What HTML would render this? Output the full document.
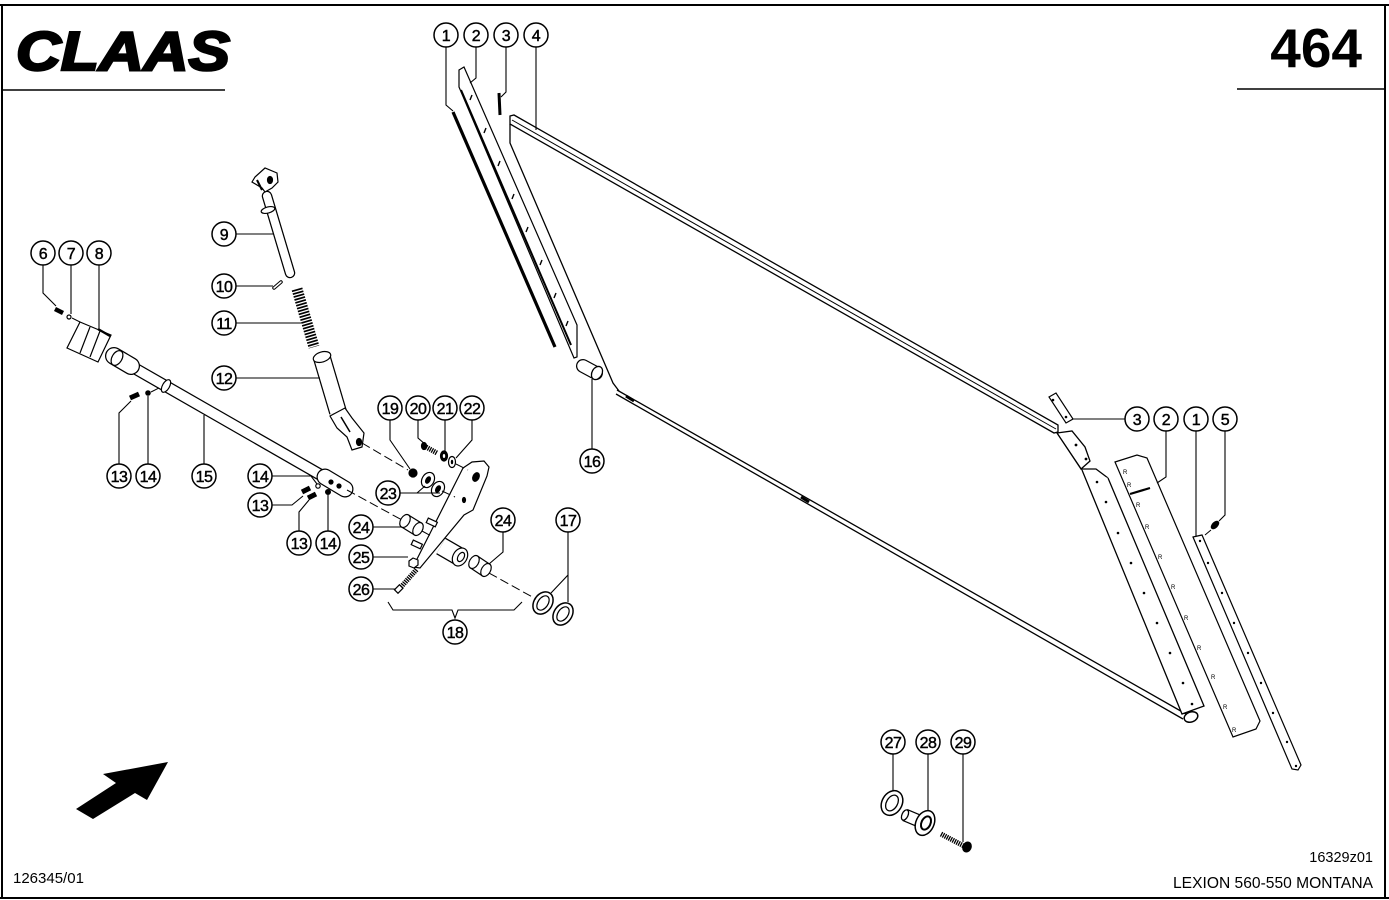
<!DOCTYPE html>
<html><head><meta charset="utf-8"><style>
html,body{margin:0;padding:0;background:#fff;}
svg{display:block;}
text{font-family:"Liberation Sans",sans-serif;}
</style></head><body>
<svg width="1389" height="900" viewBox="0 0 1389 900" xmlns="http://www.w3.org/2000/svg">
<rect width="1389" height="900" fill="#fff"/>

<!-- frame -->
<g stroke="#000" stroke-width="2" fill="none">
<line x1="0" y1="5" x2="1389" y2="5"/>
<line x1="2" y1="5" x2="2" y2="898"/>
<line x1="1385" y1="5" x2="1385" y2="898"/>
<line x1="0" y1="898" x2="1389" y2="898"/>
<line x1="2" y1="90" x2="225" y2="90" stroke-width="1.6"/>
<line x1="1237" y1="89" x2="1385" y2="89" stroke-width="1.6"/>
</g>

<!-- logo & page number -->
<text x="16" y="70" font-size="55" font-weight="bold" font-style="italic" stroke="#000" stroke-width="2.5" textLength="214" lengthAdjust="spacingAndGlyphs">CLAAS</text>
<text x="1362" y="67" font-size="55" font-weight="bold" text-anchor="end">464</text>

<!-- ================= MAIN PANEL (part 4) ================= -->
<g stroke="#000" fill="none" stroke-width="1.3">
  <polygon points="510,116 514,115 1058,425 1058,432 1054,433 510,124" fill="#fff"/>
  <line x1="512" y1="120" x2="1056" y2="429" stroke-width="1"/>
  <polyline points="510,124 510,143 613,383 619,391"/>
  <line x1="617" y1="390" x2="1186" y2="714"/>
  <line x1="616" y1="394" x2="1183" y2="719"/>
  <line x1="626" y1="396" x2="634" y2="401" stroke-width="3"/>
  <line x1="801" y1="497" x2="809" y2="502" stroke-width="3"/>
  <!-- bracket -->
  <path d="M1057 433 L1072 431 L1085 447 L1090 461 L1081 469 Z" fill="#fff"/>
  <path d="M1081 469 L1096 469 L1108 478"/>
  <line x1="1057" y1="433" x2="1082" y2="470" stroke-width="1"/>
  <!-- dotted strip -->
  <path d="M1082 470 L1182 714 L1204 706 L1108 478" fill="#fff"/>
  <ellipse cx="1191" cy="717" rx="7" ry="5" transform="rotate(-20 1191 717)" fill="#fff" stroke-width="1.5"/>
</g>
<g fill="#000">
  <circle cx="1076" cy="445" r="1.4"/><circle cx="1086" cy="459" r="1.4"/>
  <circle cx="1097" cy="482" r="1.3"/><circle cx="1106" cy="502" r="1.3"/><circle cx="1118" cy="533" r="1.3"/>
  <circle cx="1131" cy="563" r="1.3"/><circle cx="1144" cy="593" r="1.3"/><circle cx="1157" cy="623" r="1.3"/>
  <circle cx="1170" cy="653" r="1.3"/><circle cx="1183" cy="683" r="1.3"/><circle cx="1192" cy="704" r="1.3"/>
</g>

<!-- top-left strips (parts 1,2,3) -->
<g stroke="#000" fill="none">
  <line x1="453" y1="112" x2="555" y2="347" stroke-width="3.2"/>
  <polygon points="459,70 464,67 577,325 577,357 574,358 459,87" fill="#fff" stroke-width="1.2"/>
  <line x1="461" y1="90" x2="571" y2="345" stroke-width="2"/>
  <g stroke-width="1.4">
    <line x1="470" y1="100" x2="472" y2="95"/><line x1="484" y1="133" x2="486" y2="128"/>
    <line x1="498" y1="166" x2="500" y2="161"/><line x1="512" y1="199" x2="514" y2="194"/>
    <line x1="526" y1="232" x2="528" y2="227"/><line x1="540" y1="265" x2="542" y2="260"/>
    <line x1="554" y1="298" x2="556" y2="293"/><line x1="566" y1="326" x2="568" y2="321"/>
  </g>
  <line x1="499" y1="93" x2="500" y2="115" stroke-width="3"/>
</g>

<!-- part 16 -->
<g stroke="#000" stroke-width="1.3">
  <line x1="583" y1="366" x2="596" y2="373" stroke-width="14" stroke-linecap="round"/>
  <line x1="583" y1="366" x2="596" y2="373" stroke="#fff" stroke-width="11.5" stroke-linecap="round"/>
  <ellipse cx="597" cy="373" rx="5" ry="7" transform="rotate(30 597 373)" fill="#fff"/>
</g>

<!-- right side parts 3,2,1,5 -->
<g stroke="#000" fill="#fff" stroke-width="1.2">
  <polygon points="1049,397 1056,393 1073,419 1066,423"/>
  <polygon points="1115,462 1137,455 1147,458 1260,721 1256,729 1233,737"/>
  <polygon points="1193,537 1202,535 1301,765 1298,770 1292,769"/>
  <line x1="1130" y1="494" x2="1150" y2="488" stroke-width="2.2"/>
  <ellipse cx="1215" cy="525" rx="4.5" ry="2.5" transform="rotate(-45 1215 525)" fill="#000"/>
  <line x1="1211" y1="530" x2="1205" y2="535" stroke-width="1"/>
</g>
<g fill="#000">
  <circle cx="1053" cy="400" r="1.3"/><circle cx="1066" cy="417" r="1.3"/>
  <circle cx="1200" cy="541" r="1.2"/><circle cx="1208" cy="563" r="1.2"/><circle cx="1222" cy="593" r="1.2"/>
  <circle cx="1234" cy="623" r="1.2"/><circle cx="1248" cy="653" r="1.2"/><circle cx="1261" cy="683" r="1.2"/>
  <circle cx="1273" cy="713" r="1.2"/><circle cx="1287" cy="742" r="1.2"/><circle cx="1296" cy="766" r="1.2"/>
</g>
<g font-size="6" fill="#000" font-family="Liberation Sans,sans-serif">
  <text x="1123" y="474">R</text><text x="1127" y="487">R</text><text x="1136" y="507">R</text>
  <text x="1145" y="529">R</text><text x="1158" y="559">R</text><text x="1171" y="589">R</text>
  <text x="1184" y="620">R</text><text x="1197" y="650">R</text><text x="1211" y="679">R</text>
  <text x="1223" y="709">R</text><text x="1232" y="732">R</text>
</g>

<!-- ================= LEFT ASSEMBLY ================= -->
<g stroke="#000" fill="#fff" stroke-width="1.2">
  <!-- part 9 rod -->
  <line x1="267" y1="196" x2="290" y2="273" stroke-width="10.5" stroke-linecap="round"/>
  <line x1="267" y1="196" x2="290" y2="273" stroke="#fff" stroke-width="8" stroke-linecap="round"/>
  <ellipse cx="268" cy="210" rx="7" ry="3" transform="rotate(-15 268 210)"/>
  <polygon points="252,182 255,177 265,168 277,173 278,182 272,188 265,192 262,188"/>
  <ellipse cx="270" cy="180" rx="2.5" ry="3.5" fill="#000"/>
  <line x1="257" y1="180" x2="262" y2="190" stroke-width="2"/>
  <!-- part 10 pin -->
  <line x1="274" y1="288" x2="281" y2="282" stroke-width="3.5" stroke-linecap="round"/>
  <line x1="274" y1="288" x2="281" y2="282" stroke="#fff" stroke-width="1.5" stroke-linecap="round"/>
  <!-- part 11 spring -->
  <line x1="297" y1="289" x2="314" y2="347" stroke-width="11" stroke-dasharray="1.7 1.3"/>
  <!-- part 12 tube -->
  <line x1="322" y1="358" x2="338" y2="412" stroke-width="18"/>
  <line x1="322" y1="358" x2="338" y2="412" stroke="#fff" stroke-width="15.5"/>
  <ellipse cx="322" cy="357" rx="9" ry="5" transform="rotate(-17 322 357)"/>
  <polygon points="330,416 345,408 352,418 364,433 362,447 352,450 347,437 337,428"/>
  <line x1="341" y1="417" x2="350" y2="432" stroke-width="1.5"/>
  <ellipse cx="359" cy="442" rx="2.5" ry="3.5" fill="#000"/>
  <!-- part 8 block -->
  <polygon points="80,322 111,335 98,362 67,348"/>
  <line x1="90" y1="327" x2="80" y2="353"/>
  <line x1="100" y1="331" x2="90" y2="357"/>
  <line x1="98" y1="329" x2="110" y2="336" stroke-width="2.2"/>
  <!-- part 6,7 -->
  <line x1="55" y1="309" x2="63" y2="313" stroke="#000" stroke-width="4.5"/>
  <circle cx="69" cy="317" r="2" fill="#fff" stroke-width="1.2"/>
  <!-- part 15 tube -->
  <line x1="122" y1="361" x2="333" y2="482" stroke-width="12"/>
  <line x1="122" y1="361" x2="333" y2="482" stroke="#fff" stroke-width="9.5"/>
  <line x1="114" y1="356" x2="131" y2="366" stroke-width="18" stroke-linecap="round"/>
  <line x1="114" y1="356" x2="131" y2="366" stroke="#fff" stroke-width="15.5" stroke-linecap="round"/>
  <ellipse cx="117" cy="358" rx="5" ry="8" transform="rotate(30 117 358)"/>
  <ellipse cx="166" cy="386" rx="3.5" ry="7" transform="rotate(30 166 386)"/>
  <line x1="325" y1="477" x2="345" y2="489" stroke-width="17" stroke-linecap="round"/>
  <line x1="325" y1="477" x2="345" y2="489" stroke="#fff" stroke-width="14.5" stroke-linecap="round"/>
  <circle cx="331" cy="482" r="2" fill="#000"/><circle cx="339" cy="486" r="2" fill="#000"/>
  <!-- bolts 13 / washers 14 -->
  <line x1="130" y1="398" x2="139" y2="394" stroke="#000" stroke-width="5"/>
  <circle cx="148" cy="393" r="2.2" fill="#000"/>
  <line x1="302" y1="492" x2="310" y2="488" stroke="#000" stroke-width="5"/>
  <line x1="308" y1="498" x2="316" y2="494" stroke="#000" stroke-width="5"/>
  <circle cx="318" cy="486" r="2.2"/>
  <circle cx="328" cy="492" r="2.4" fill="#000"/>
  <!-- plate -->
  <polygon points="463,468 472,462 484,461 489,467 487,476 473,510 464,515 420,568 413,567"/>
  <ellipse cx="476" cy="477" rx="3" ry="4.5" transform="rotate(25 476 477)" fill="#000"/>
  <ellipse cx="464" cy="500" rx="1.5" ry="2.5" fill="#000"/>
  <rect x="427" y="520" width="10" height="5" transform="rotate(25 432 522)"/>
  <rect x="412" y="542" width="10" height="5" transform="rotate(25 417 544)"/>
  <!-- sleeve on plate -->
  <line x1="441" y1="546" x2="460" y2="557" stroke-width="19"/>
  <line x1="441" y1="546" x2="460" y2="557" stroke="#fff" stroke-width="16.5"/>
  <ellipse cx="460" cy="557" rx="7" ry="9.5" transform="rotate(30 460 557)"/>
  <ellipse cx="461" cy="557" rx="3" ry="5" transform="rotate(30 461 557)"/>
  <!-- bushings 24 -->
  <line x1="405" y1="521" x2="418" y2="529" stroke-width="15"/>
  <line x1="405" y1="521" x2="418" y2="529" stroke="#fff" stroke-width="12.5"/>
  <ellipse cx="405" cy="521" rx="4.5" ry="7" transform="rotate(30 405 521)"/>
  <ellipse cx="418" cy="529" rx="4.5" ry="7" transform="rotate(30 418 529)"/>
  <line x1="474" y1="562" x2="486" y2="570" stroke-width="15"/>
  <line x1="474" y1="562" x2="486" y2="570" stroke="#fff" stroke-width="12.5"/>
  <ellipse cx="474" cy="562" rx="4.5" ry="7" transform="rotate(30 474 562)"/>
  <ellipse cx="486" cy="570" rx="4.5" ry="7" transform="rotate(30 486 570)"/>
  <!-- 19-23 -->
  <circle cx="413" cy="473" r="4" fill="#000"/>
  <line x1="426" y1="447" x2="437" y2="453" stroke="#000" stroke-width="5" stroke-dasharray="1.3 0.9"/>
  <ellipse cx="424" cy="446" rx="2.5" ry="3.5" fill="#000"/>
  <ellipse cx="444" cy="456" rx="3.5" ry="5" fill="#000"/>
  <ellipse cx="444" cy="456" rx="1.2" ry="2" fill="#fff" stroke="none"/>
  <ellipse cx="452" cy="462" rx="3.5" ry="5.5"/>
  <ellipse cx="452" cy="462" rx="1.2" ry="2.3" fill="#000" stroke="none"/>
  <ellipse cx="428" cy="480" rx="6" ry="8" transform="rotate(30 428 480)"/>
  <ellipse cx="428" cy="480" rx="2" ry="3.5" transform="rotate(30 428 480)" fill="#000"/>
  <ellipse cx="438" cy="489" rx="6" ry="8" transform="rotate(30 438 489)"/>
  <ellipse cx="438" cy="489" rx="2" ry="3.5" transform="rotate(30 438 489)" fill="#000"/>
  <!-- 25 nut, 26 bolt -->
  <polygon points="409,561 413,558 418,560 418,565 414,568 409,566"/>
  <line x1="401" y1="587" x2="417" y2="569" stroke="#000" stroke-width="5" stroke-dasharray="1.3 0.9"/>
  <rect x="395" y="587" width="7" height="5" transform="rotate(-45 398 589)"/>
  <!-- 17 rings -->
  <ellipse cx="543" cy="603" rx="9" ry="12" transform="rotate(35 543 603)" stroke-width="1.5"/>
  <ellipse cx="543" cy="603" rx="5" ry="8" transform="rotate(35 543 603)" stroke-width="1.2"/>
  <ellipse cx="563" cy="614" rx="9" ry="12" transform="rotate(35 563 614)" stroke-width="1.5"/>
  <ellipse cx="563" cy="614" rx="5" ry="8" transform="rotate(35 563 614)" stroke-width="1.2"/>
</g>

<!-- dashed assembly lines -->
<g stroke="#000" stroke-width="1" stroke-dasharray="9 4" fill="none">
  <line x1="347" y1="490" x2="402" y2="520"/>
  <line x1="422" y1="531" x2="433" y2="537"/>
  <line x1="489" y1="573" x2="536" y2="599"/>
  <line x1="362" y1="443" x2="408" y2="470"/>
  <line x1="456" y1="464" x2="468" y2="470"/>
  <line x1="442" y1="491" x2="455" y2="497"/>
  <line x1="151" y1="392" x2="161" y2="387"/>
  <line x1="72" y1="318" x2="80" y2="322"/>
</g>

<!-- parts 27, 28, 29 -->
<g stroke="#000" fill="#fff" stroke-width="1.3">
  <ellipse cx="892" cy="803" rx="10" ry="13" transform="rotate(30 892 803)" stroke-width="1.5"/>
  <ellipse cx="892" cy="803" rx="5.5" ry="8.5" transform="rotate(30 892 803)"/>
  <line x1="905" y1="815" x2="924" y2="823" stroke-width="13"/>
  <line x1="905" y1="815" x2="924" y2="823" stroke="#fff" stroke-width="10.5"/>
  <ellipse cx="905" cy="815" rx="3" ry="5.5" transform="rotate(25 905 815)"/>
  <ellipse cx="925" cy="823" rx="9" ry="13" transform="rotate(25 925 823)" stroke-width="1.5"/>
  <ellipse cx="926" cy="823" rx="4.5" ry="7" transform="rotate(25 926 823)" stroke-width="2"/>
  <line x1="941" y1="834" x2="964" y2="846" stroke="#000" stroke-width="5" stroke-dasharray="1.3 0.9"/>
  <ellipse cx="967" cy="847" rx="4" ry="5" transform="rotate(25 967 847)" fill="#000"/>
</g>

<!-- arrow -->
<polygon points="168,762 147,800 135,793 93,819 76,809 116,783 103,774" fill="#000"/>

<!-- leader lines -->
<g stroke="#000" stroke-width="1.1" fill="none">
  <path d="M446 47 V105 L453 111"/>
  <path d="M476 47 V78 L470 83"/>
  <path d="M506 47 V92 L501 97"/>
  <path d="M536 47 V130"/>
  <path d="M43 265 V293 L56 306"/>
  <path d="M71 265 V314"/>
  <path d="M99 265 V331"/>
  <path d="M236 234 H273"/>
  <path d="M236 286 H273"/>
  <path d="M236 323 H301"/>
  <path d="M236 378 H320"/>
  <path d="M119 464 V413 L131 401"/>
  <path d="M148 464 V396"/>
  <path d="M204 464 V415"/>
  <path d="M272 476 H311 L317 484"/>
  <path d="M272 505 H292 L303 496"/>
  <path d="M299 531 V512 L309 500"/>
  <path d="M328 531 V495"/>
  <path d="M390 420 V440 L410 469"/>
  <path d="M418 420 V438 L426 445"/>
  <path d="M445 420 V451"/>
  <path d="M472 420 V440 L456 458"/>
  <path d="M400 493 H440 M417 493 L425 486"/>
  <path d="M373 527 H401"/>
  <path d="M503 532 V552 L489 564"/>
  <path d="M568 532 V575 L551 593 M568 575 V602"/>
  <path d="M373 557 H408"/>
  <path d="M373 589 H396"/>
  <path d="M388 602 L393 610 H452 L455 618 L458 610 H514 L522 602"/>
  <path d="M592 449 V379"/>
  <path d="M1125 419 H1072"/>
  <path d="M1166 431 V477 L1157 483"/>
  <path d="M1196 431 V536"/>
  <path d="M1225 431 V515 L1219 521"/>
  <path d="M893 754 V791"/>
  <path d="M928 754 V810"/>
  <path d="M963 754 V842"/>
</g>

<!-- callouts -->
<g stroke="#000" stroke-width="1.5" fill="#fff">
  <circle cx="446" cy="35" r="12"/><circle cx="476" cy="35" r="12"/><circle cx="506" cy="35" r="12"/><circle cx="536" cy="35" r="12"/>
  <circle cx="43" cy="253" r="12"/><circle cx="71" cy="253" r="12"/><circle cx="99" cy="253" r="12"/>
  <circle cx="224" cy="234" r="12"/><circle cx="224" cy="286" r="12"/><circle cx="224" cy="323" r="12"/><circle cx="224" cy="378" r="12"/>
  <circle cx="119" cy="476" r="12"/><circle cx="148" cy="476" r="12"/><circle cx="204" cy="476" r="12"/>
  <circle cx="260" cy="476" r="12"/><circle cx="260" cy="505" r="12"/><circle cx="299" cy="543" r="12"/><circle cx="328" cy="543" r="12"/>
  <circle cx="390" cy="408" r="12"/><circle cx="418" cy="408" r="12"/><circle cx="445" cy="408" r="12"/><circle cx="472" cy="408" r="12"/>
  <circle cx="388" cy="493" r="12"/><circle cx="361" cy="527" r="12"/><circle cx="503" cy="520" r="12"/><circle cx="568" cy="520" r="12"/>
  <circle cx="361" cy="557" r="12"/><circle cx="361" cy="589" r="12"/><circle cx="455" cy="632" r="12"/><circle cx="592" cy="461" r="12"/>
  <circle cx="1137" cy="419" r="12"/><circle cx="1166" cy="419" r="12"/><circle cx="1196" cy="419" r="12"/><circle cx="1225" cy="419" r="12"/>
  <circle cx="893" cy="742" r="12"/><circle cx="928" cy="742" r="12"/><circle cx="963" cy="742" r="12"/>
</g>
<g font-size="16" text-anchor="middle" fill="#000" stroke="#000" stroke-width="0.45" letter-spacing="-0.5">
  <text x="446" y="41">1</text><text x="476" y="41">2</text><text x="506" y="41">3</text><text x="536" y="41">4</text>
  <text x="43" y="259">6</text><text x="71" y="259">7</text><text x="99" y="259">8</text>
  <text x="224" y="240">9</text><text x="224" y="292">10</text><text x="224" y="329">11</text><text x="224" y="384">12</text>
  <text x="119" y="482">13</text><text x="148" y="482">14</text><text x="204" y="482">15</text>
  <text x="260" y="482">14</text><text x="260" y="511">13</text><text x="299" y="549">13</text><text x="328" y="549">14</text>
  <text x="390" y="414">19</text><text x="418" y="414">20</text><text x="445" y="414">21</text><text x="472" y="414">22</text>
  <text x="388" y="499">23</text><text x="361" y="533">24</text><text x="503" y="526">24</text><text x="568" y="526">17</text>
  <text x="361" y="563">25</text><text x="361" y="595">26</text><text x="455" y="638">18</text><text x="592" y="467">16</text>
  <text x="1137" y="425">3</text><text x="1166" y="425">2</text><text x="1196" y="425">1</text><text x="1225" y="425">5</text>
  <text x="893" y="748">27</text><text x="928" y="748">28</text><text x="963" y="748">29</text>
</g>

<!-- footer texts -->
<text x="1373" y="862" font-size="14.5" text-anchor="end">16329z01</text>
<text x="1373" y="888" font-size="15.5" text-anchor="end" textLength="200" lengthAdjust="spacingAndGlyphs">LEXION 560-550 MONTANA</text>
<text x="13" y="883" font-size="15">126345/01</text>
</svg>
</body></html>
